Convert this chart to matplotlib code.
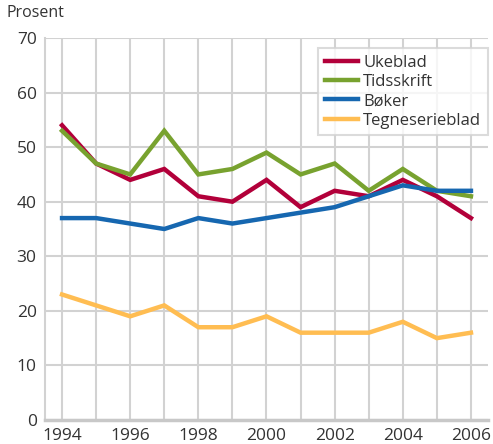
import matplotlib
matplotlib.use("Agg")
import matplotlib.pyplot as plt

years = list(range(1994, 2007))
ukeblad = [54, 47, 44, 46, 41, 40, 44, 39, 42, 41, 44, 41, 37]
tidsskrift = [53, 47, 45, 53, 45, 46, 49, 45, 47, 42, 46, 42, 41]
boker = [37, 37, 36, 35, 37, 36, 37, 38, 39, 41, 43, 42, 42]
tegneserieblad = [23, 21, 19, 21, 17, 17, 19, 16, 16, 16, 18, 15, 16]

series = [
    ("Ukeblad", ukeblad, "#b2003a"),
    ("Tidsskrift", tidsskrift, "#78a22f"),
    ("Bøker", boker, "#1667b0"),
    ("Tegneserieblad", tegneserieblad, "#ffbd52"),
]

plt.rcParams["font.family"] = ["Open Sans", "DejaVu Sans"]

fig = plt.figure(figsize=(4.93, 4.44), dpi=100)
ax = fig.add_axes([45 / 493, 1 - 420 / 444, 443 / 493, 382 / 444])

for name, vals, col in series:
    ax.plot(years, vals, color=col, lw=3.2, label=name, solid_joinstyle="miter")

ax.set_xlim(1993.5, 2006.5)
ax.set_ylim(0, 70)
ax.set_xticks(years)
ax.set_xticklabels([str(y) if y % 2 == 0 else "" for y in years])
ax.set_yticks(range(0, 71, 10))
ax.grid(True, color="#d2d2d2", lw=1.5)
ax.set_axisbelow(True)
for s in ["top", "right"]:
    ax.spines[s].set_visible(False)
ax.spines["left"].set_color("#d2d2d2")
ax.spines["left"].set_linewidth(1.5)
ax.spines["bottom"].set_color("#c8c8c8")
ax.spines["bottom"].set_linewidth(2.5)
ax.tick_params(length=0, labelsize=12.5, colors="#333333", pad=6)

fig.text(6 / 493, 1 - 13 / 444, "Prosent", fontsize=11.5, color="#333333", va="center")

leg = ax.legend(loc="upper right", bbox_to_anchor=(1.0, 0.974), fontsize=12,
                frameon=True, fancybox=False, handlelength=2.0,
                handletextpad=0.3, labelspacing=0.2, borderpad=0.4,
                borderaxespad=0.0)
leg.get_frame().set_edgecolor("#d2d2d2")
leg.get_frame().set_linewidth(1.5)
for t in leg.get_texts():
    t.set_color("#333333")

fig.savefig("out.png", dpi=100)
